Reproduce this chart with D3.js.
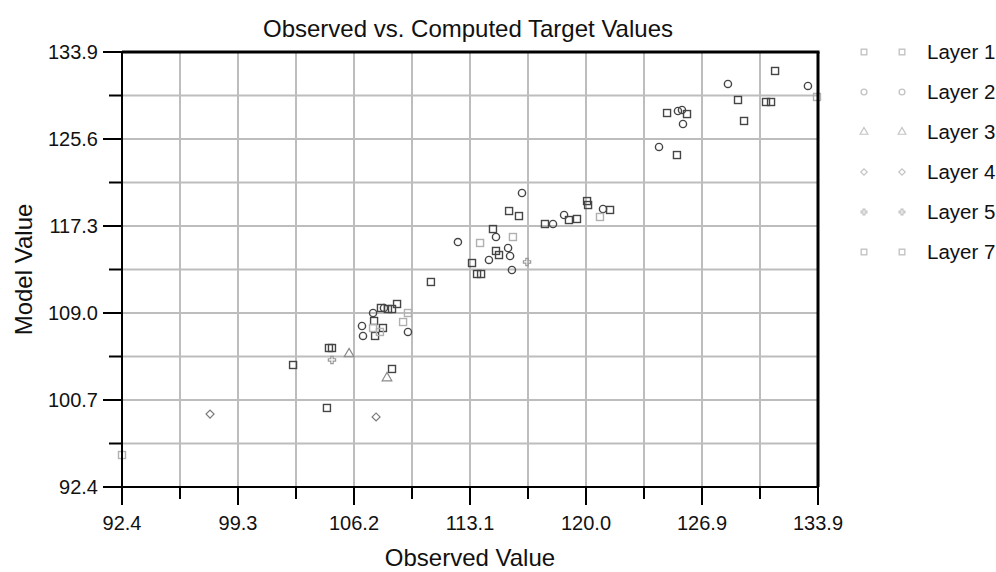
<!DOCTYPE html>
<html>
<head>
<meta charset="utf-8">
<script src="https://cdn.jsdelivr.net/npm/d3@7"></script>
<style>
  body { margin: 0; background: #fff; }
  svg { display: block; font-family: "Liberation Sans", Arial, sans-serif; }
</style>
</head>
<body>
<svg id="chart" width="996" height="572"></svg>
<script>
// axis range and tick labels
const xDomain = [92.4, 133.9];
const yDomain = [92.4, 133.9];
const xTickLabels = ["92.4", "99.3", "106.2", "113.1", "120.0", "126.9", "133.9"];
const yTickLabels = ["92.4", "100.7", "109.0", "117.3", "125.6", "133.9"];

const layerNames = ["Layer 1", "Layer 2", "Layer 3", "Layer 4", "Layer 5", "Layer 7"];

// [observed, model] per layer
const layer1 = [
  [131.34, 132.09], [129.13, 129.32], [130.80, 129.13], [131.10, 129.13],
  [124.90, 128.08], [126.09, 127.98], [129.49, 127.32], [125.49, 124.07],
  [120.13, 119.68], [120.19, 119.30], [115.48, 118.73], [116.07, 118.25],
  [117.62, 117.49], [119.05, 117.87], [119.53, 117.97], [121.50, 118.83],
  [114.52, 117.01], [114.70, 114.92], [114.88, 114.53], [113.27, 113.77],
  [113.57, 112.72], [113.81, 112.72], [110.82, 111.96], [107.84, 109.48],
  [108.26, 109.38], [108.50, 109.38], [108.80, 109.86], [107.43, 108.24],
  [107.96, 107.57], [107.49, 106.81], [104.74, 105.66], [104.92, 105.66],
  [102.60, 104.04], [108.50, 103.66], [104.62, 99.94]
];
const layer2 = [
  [128.53, 130.85], [133.30, 130.66], [125.55, 128.27], [125.79, 128.37],
  [125.85, 127.03], [124.42, 124.84], [116.25, 120.45], [118.10, 117.49],
  [118.76, 118.35], [121.08, 118.92], [114.70, 116.25], [112.43, 115.77],
  [115.42, 115.20], [115.54, 114.44], [114.28, 114.06], [115.65, 113.10],
  [107.37, 109.00], [108.02, 109.48], [106.71, 107.76], [106.77, 106.81],
  [109.45, 107.19]
];
const layer3 = [[105.94, 105.09], [108.20, 102.80]];
const layer4 = [[97.65, 99.36], [107.55, 99.08]];
const layer5 = [[104.92, 104.52], [116.55, 113.87]];
const layer7 = [
  [120.90, 118.16], [115.71, 116.25], [113.75, 115.68], [109.45, 109.00],
  [109.16, 108.14], [107.37, 107.57], [107.78, 107.19], [92.40, 95.45],
  [133.84, 129.61]
];
const layerData = [layer1, layer2, layer3, layer4, layer5, layer7];

const svg = d3.select("#chart");
const margin = {left: 122, right: 178, top: 52, bottom: 85};
const W = 996, H = 572;

const x = d3.scaleLinear().domain(xDomain).range([margin.left, W - margin.right]);
const y = d3.scaleLinear().domain(yDomain).range([H - margin.bottom, margin.top]);

// evenly spaced ticks, labelled from the arrays
const xMajor = xTickLabels.map((d, i) => xDomain[0] + i * (xDomain[1] - xDomain[0]) / (xTickLabels.length - 1));
const yMajor = yTickLabels.map((d, i) => yDomain[0] + i * (yDomain[1] - yDomain[0]) / (yTickLabels.length - 1));
const xMinor = xMajor.slice(1).map((d, i) => (d + xMajor[i]) / 2);
const yMinor = yMajor.slice(1).map((d, i) => (d + yMajor[i]) / 2);

const gridColor = "#bdbdbd";

// grid
const grid = svg.append("g");
xMajor.concat(xMinor).forEach(v => {
  grid.append("line")
    .attr("x1", x(v)).attr("x2", x(v))
    .attr("y1", y.range()[1]).attr("y2", y.range()[0])
    .attr("stroke", gridColor).attr("stroke-width", 2);
});
yMajor.concat(yMinor).forEach(v => {
  grid.append("line")
    .attr("x1", x.range()[0]).attr("x2", x.range()[1])
    .attr("y1", y(v)).attr("y2", y(v))
    .attr("stroke", gridColor).attr("stroke-width", 2);
});

// points
const plot = svg.append("g");
const markerColors = ["#454545", "#454545", "#8a8a8a", "#7a7a7a", "#9a9a9a", "#b0b0b0"];

function drawMarker(g, type, cx, cy, color, s) {
  s = s || 3.5;
  if (type === 0 || type === 5) {
    g.append("rect").attr("x", cx - s).attr("y", cy - s)
      .attr("width", 2 * s).attr("height", 2 * s)
      .attr("fill", "none").attr("stroke", color).attr("stroke-width", 1.4);
  } else if (type === 1) {
    g.append("circle").attr("cx", cx).attr("cy", cy).attr("r", s + 0.1)
      .attr("fill", "none").attr("stroke", color).attr("stroke-width", 1.4);
  } else if (type === 2) {
    g.append("path").attr("d", d3.symbol(d3.symbolTriangle, s * s * 3.3)())
      .attr("transform", `translate(${cx},${cy})`)
      .attr("fill", "none").attr("stroke", color).attr("stroke-width", 1.2);
  } else if (type === 3) {
    g.append("path").attr("d", d3.symbol(d3.symbolSquare, s * s * 2.6)())
      .attr("transform", `translate(${cx},${cy}) rotate(45)`)
      .attr("fill", "none").attr("stroke", color).attr("stroke-width", 1.2);
  } else {
    g.append("path").attr("d", d3.symbol(d3.symbolCross, s * s * 2.4)())
      .attr("transform", `translate(${cx},${cy})`)
      .attr("fill", "none").attr("stroke", color).attr("stroke-width", 1.2);
  }
}

layerData.forEach((pts, i) => {
  pts.forEach(p => drawMarker(plot, i, x(p[0]), y(p[1]), markerColors[i]));
});

// frame
const frame = svg.append("g").attr("stroke", "#000").attr("fill", "none");
frame.append("line").attr("x1", x.range()[0]).attr("x2", x.range()[1] + 1.5)
  .attr("y1", y.range()[1]).attr("y2", y.range()[1]).attr("stroke-width", 3);
frame.append("line").attr("x1", x.range()[1]).attr("x2", x.range()[1])
  .attr("y1", y.range()[1]).attr("y2", y.range()[0]).attr("stroke-width", 3);

// axes
const xAxis = svg.append("g").attr("transform", `translate(0,${y.range()[0]})`);
xAxis.append("line").attr("x1", x.range()[0] - 19).attr("x2", x.range()[1])
  .attr("stroke", "#000").attr("stroke-width", 2);
xMajor.forEach((v, i) => {
  xAxis.append("line").attr("x1", x(v)).attr("x2", x(v)).attr("y1", 0).attr("y2", 18)
    .attr("stroke", "#000").attr("stroke-width", 2);
  xAxis.append("text").attr("x", x(v)).attr("y", 43)
    .attr("text-anchor", "middle").attr("font-size", 20).attr("fill", "#111")
    .text(xTickLabels[i]);
});
xMinor.forEach(v => {
  xAxis.append("line").attr("x1", x(v)).attr("x2", x(v)).attr("y1", 0).attr("y2", 12)
    .attr("stroke", "#000").attr("stroke-width", 2);
});

const yAxis = svg.append("g").attr("transform", `translate(${x.range()[0]},0)`);
yAxis.append("line").attr("y1", y.range()[1]).attr("y2", y.range()[0] + 18)
  .attr("stroke", "#000").attr("stroke-width", 2);
yMajor.forEach((v, i) => {
  yAxis.append("line").attr("x1", -19).attr("x2", 0).attr("y1", y(v)).attr("y2", y(v))
    .attr("stroke", "#000").attr("stroke-width", 2);
  yAxis.append("text").attr("x", -24).attr("y", y(v) + 7)
    .attr("text-anchor", "end").attr("font-size", 20).attr("fill", "#111")
    .text(yTickLabels[i]);
});
yMinor.forEach(v => {
  yAxis.append("line").attr("x1", -13).attr("x2", 0).attr("y1", y(v)).attr("y2", y(v))
    .attr("stroke", "#000").attr("stroke-width", 2);
});

// titles
svg.append("text").attr("x", 468).attr("y", 37)
  .attr("text-anchor", "middle").attr("font-size", 24).attr("fill", "#111")
  .text("Observed vs. Computed Target Values");
svg.append("text").attr("x", (x.range()[0] + x.range()[1]) / 2).attr("y", 566)
  .attr("text-anchor", "middle").attr("font-size", 24).attr("fill", "#111")
  .text("Observed Value");
svg.append("text")
  .attr("transform", `translate(32,${(y.range()[0] + y.range()[1]) / 2}) rotate(-90)`)
  .attr("text-anchor", "middle").attr("font-size", 24).attr("fill", "#111")
  .text("Model Value");

// legend
const legend = svg.append("g");
layerNames.forEach((name, i) => {
  const ly = 52 + i * 40;
  drawMarker(legend, i, 864, ly, "#c4c4c4", 2.8);
  drawMarker(legend, i, 902, ly, "#c4c4c4", 2.8);
  legend.append("text").attr("x", 927).attr("y", ly + 7)
    .attr("font-size", 20.5).attr("fill", "#111").text(name);
});
</script>
</body>
</html>
